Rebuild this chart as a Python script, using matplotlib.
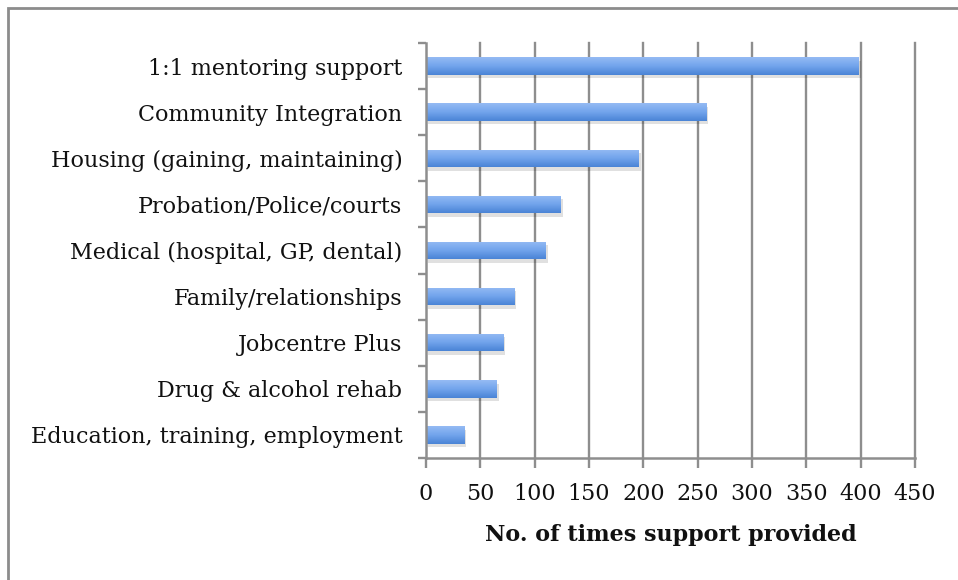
import numpy as np
import matplotlib
matplotlib.use("Agg")
import matplotlib.pyplot as plt
from matplotlib import patheffects as pe
from matplotlib.patches import Rectangle
from matplotlib.colors import LinearSegmentedColormap

categories = [
    "1:1 mentoring support",
    "Community Integration",
    "Housing (gaining, maintaining)",
    "Probation/Police/courts",
    "Medical (hospital, GP, dental)",
    "Family/relationships",
    "Jobcentre Plus",
    "Drug & alcohol rehab",
    "Education, training, employment",
]
values = [398, 258, 196, 124, 110, 81, 71, 65, 35]
xticks = [0, 50, 100, 150, 200, 250, 300, 350, 400, 450]
xlabel = "No. of times support provided"

plt.rcParams['font.family'] = ['DejaVu Serif']

W, H = 958, 580
fig = plt.figure(figsize=(W / 100, H / 100), dpi=100)
fig.patch.set_facecolor('white')

# outer frame (cut at right and bottom as in the reference)
fig.patches.append(Rectangle((8 / W, -0.05), 1.2, 1 - 8 / H + 0.05, transform=fig.transFigure,
                             fill=False, edgecolor='#8c8c8c', linewidth=2.0))

ax = fig.add_axes([426 / W, 1 - 458 / H, (915 - 426) / W, (458 - 43) / H])
n = len(categories)
ypos = np.arange(n)
grid_c = '#8e8e8e'

ax.set_xlim(0, 450)
ax.set_ylim(n - 0.5, -0.5)

for x in xticks[1:]:
    ax.axvline(x, color=grid_c, lw=1.7, zorder=1, clip_on=False)

bar_h = 0.38
bars = ax.barh(ypos, values, height=bar_h, color='#5f95e0', zorder=3,
               path_effects=[pe.SimplePatchShadow(offset=(1.5, -2.5), shadow_rgbFace='#000000', alpha=0.12),
                             pe.Normal()])

cmap = LinearSegmentedColormap.from_list('g', ['#95bbf4', '#72a4ec', '#4a84d6'])
grad = np.linspace(0, 1, 64).reshape(-1, 1)
for b, v, yy in zip(bars, values, ypos):
    im = ax.imshow(grad, cmap=cmap, aspect='auto', zorder=4,
                   extent=[0, v, yy + bar_h / 2, yy - bar_h / 2], interpolation='bilinear')
    im.set_clip_path(b)
ax.set_xlim(0, 450)
ax.set_ylim(n - 0.5, -0.5)

for s in ['top', 'right']:
    ax.spines[s].set_visible(False)
for s in ['left', 'bottom']:
    ax.spines[s].set_color(grid_c)
    ax.spines[s].set_linewidth(1.8)
    ax.spines[s].set_zorder(5)

ax.set_xticks(xticks)
ax.set_xticklabels([str(t) for t in xticks], fontsize=16, color='#111111')
ax.tick_params(axis='x', direction='out', length=7, width=1.7, color=grid_c, pad=11)

ax.set_yticks(ypos)
ax.set_yticklabels(categories, fontsize=16, color='#111111')
ax.set_yticks(np.arange(n + 1) - 0.5, minor=True)
ax.tick_params(axis='y', which='major', length=0, pad=17)
ax.tick_params(axis='y', which='minor', direction='out', length=6, width=1.7, color=grid_c)

ax.set_xlabel(xlabel, fontsize=16, fontweight='bold', labelpad=14, color='#111111')

fig.savefig('out.png', dpi=100)
